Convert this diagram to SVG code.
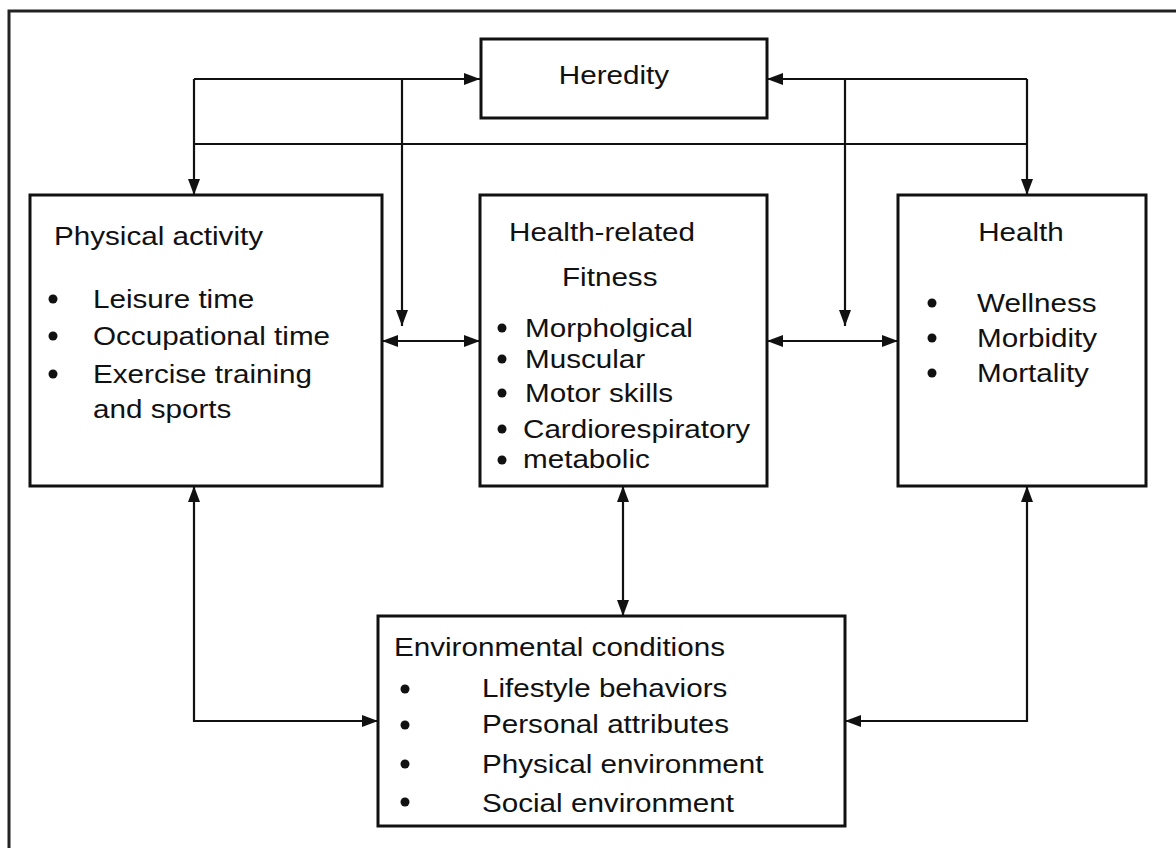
<svg xmlns="http://www.w3.org/2000/svg" width="1176" height="848" viewBox="0 0 1176 848">
  <style>
    .box { fill: #fff; stroke: #111; stroke-width: 3; }
    .frame { fill: none; stroke: #222; stroke-width: 3; }
    .wire { fill: none; stroke: #111; stroke-width: 2.2; }
    .arrow { fill: none; stroke: #111; stroke-width: 2.2; marker-end: url(#head); }
    .both { fill: none; stroke: #111; stroke-width: 2.2; marker-start: url(#tail); marker-end: url(#head); }
    text { font-family: "Liberation Sans", Arial, sans-serif; font-size: 25px; fill: #111; }
    .mid { text-anchor: middle; }
    .dot { fill: #111; }
  </style>
  <defs>
    <marker id="head" viewBox="0 0 16 12" refX="16" refY="6" markerWidth="16" markerHeight="12" markerUnits="userSpaceOnUse" orient="auto">
      <path d="M0,0 L16,6 L0,12 Z" fill="#111"/>
    </marker>
    <marker id="tail" viewBox="0 0 16 12" refX="0" refY="6" markerWidth="16" markerHeight="12" markerUnits="userSpaceOnUse" orient="auto">
      <path d="M16,0 L0,6 L16,12 Z" fill="#111"/>
    </marker>
  </defs>

  <rect width="1176" height="848" fill="#fff"/>
  <path class="frame" d="M9,848 V11 H1176"/>

  <!-- connectors -->
  <g id="connectors">
    <!-- heredity feed lines -->
    <path class="arrow" d="M194,79 H480"/>
    <path class="arrow" d="M1027,79 H767"/>
    <path class="wire" d="M194,144 H1027"/>
    <path class="arrow" d="M194,79 V195"/>
    <path class="arrow" d="M1027,79 V195"/>
    <path class="arrow" d="M402,79 V326"/>
    <path class="arrow" d="M845,79 V326"/>
    <!-- activity / fitness / health -->
    <path class="both" d="M382,341 H480"/>
    <path class="both" d="M767,341 H898"/>
    <!-- links to environmental conditions -->
    <path class="both" d="M194,486 V721 H378"/>
    <path class="both" d="M623,486 V616"/>
    <path class="both" d="M1027,486 V721 H845"/>
  </g>

  <!-- labels use a slightly widened face: matrix(1.185 0 0 1 x y) -->
  <g id="heredity">
    <rect class="box" x="481" y="39" width="286" height="79"/>
    <text class="mid" transform="matrix(1.185 0 0 1 614 84)">Heredity</text>
  </g>

  <g id="physical-activity">
    <rect class="box" x="30" y="195" width="352" height="291"/>
    <text transform="matrix(1.185 0 0 1 54 245)">Physical activity</text>
    <circle class="dot" cx="53" cy="299" r="4.5"/>
    <circle class="dot" cx="53" cy="336" r="4.5"/>
    <circle class="dot" cx="53" cy="374" r="4.5"/>
    <text transform="matrix(1.185 0 0 1 93 308)">Leisure time</text>
    <text transform="matrix(1.185 0 0 1 93 345)">Occupational time</text>
    <text transform="matrix(1.185 0 0 1 93 383)">Exercise training</text>
    <text transform="matrix(1.185 0 0 1 93 418)">and sports</text>
  </g>

  <g id="fitness">
    <rect class="box" x="480" y="195" width="287" height="291"/>
    <text transform="matrix(1.185 0 0 1 509 241)">Health-related</text>
    <text transform="matrix(1.185 0 0 1 562 286)">Fitness</text>
    <circle class="dot" cx="502" cy="328" r="4.5"/>
    <circle class="dot" cx="502" cy="359" r="4.5"/>
    <circle class="dot" cx="502" cy="393" r="4.5"/>
    <circle class="dot" cx="502" cy="429" r="4.5"/>
    <circle class="dot" cx="502" cy="460" r="4.5"/>
    <text transform="matrix(1.185 0 0 1 525 337)">Morpholgical</text>
    <text transform="matrix(1.185 0 0 1 525 368)">Muscular</text>
    <text transform="matrix(1.185 0 0 1 525 402)">Motor skills</text>
    <text transform="matrix(1.185 0 0 1 523 438)">Cardiorespiratory</text>
    <text transform="matrix(1.185 0 0 1 523 468)">metabolic</text>
  </g>

  <g id="health">
    <rect class="box" x="898" y="195" width="248" height="291"/>
    <text class="mid" transform="matrix(1.185 0 0 1 1021 241)">Health</text>
    <circle class="dot" cx="932" cy="303" r="4.5"/>
    <circle class="dot" cx="932" cy="338" r="4.5"/>
    <circle class="dot" cx="932" cy="373" r="4.5"/>
    <text transform="matrix(1.185 0 0 1 977 312)">Wellness</text>
    <text transform="matrix(1.185 0 0 1 977 347)">Morbidity</text>
    <text transform="matrix(1.185 0 0 1 977 382)">Mortality</text>
  </g>

  <g id="environment">
    <rect class="box" x="378" y="616" width="467" height="210"/>
    <text transform="matrix(1.185 0 0 1 394 656)">Environmental conditions</text>
    <circle class="dot" cx="405" cy="689" r="4.5"/>
    <circle class="dot" cx="405" cy="725" r="4.5"/>
    <circle class="dot" cx="405" cy="764" r="4.5"/>
    <circle class="dot" cx="405" cy="802" r="4.5"/>
    <text transform="matrix(1.185 0 0 1 482 697)">Lifestyle behaviors</text>
    <text transform="matrix(1.185 0 0 1 482 733)">Personal attributes</text>
    <text transform="matrix(1.185 0 0 1 482 773)">Physical environment</text>
    <text transform="matrix(1.185 0 0 1 482 812)">Social environment</text>
  </g>
</svg>
